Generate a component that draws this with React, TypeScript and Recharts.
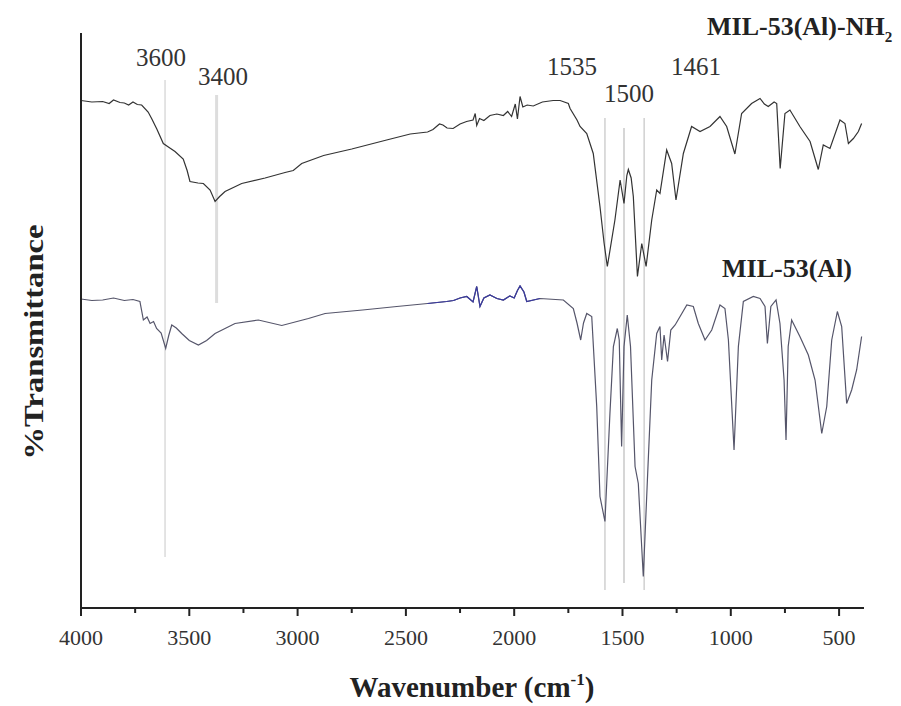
import React from 'react';
import { LineChart, Line, XAxis, YAxis, ReferenceLine, Customized } from 'recharts';

// MIL-53(Al)-NH2 spectrum (wavenumber, relative transmittance, offset trace)
const NH2_WN = [4000, 3950, 3900, 3870, 3850, 3820, 3800, 3780, 3760, 3740, 3720, 3690, 3674, 3650, 3620, 3600, 3566, 3528, 3510, 3497, 3460, 3435, 3404, 3381, 3360, 3335, 3258, 3150, 3058, 3020, 2981, 2880, 2750, 2589, 2480, 2400, 2375, 2345, 2329, 2310, 2282, 2250, 2220, 2190, 2180, 2173, 2160, 2140, 2112, 2080, 2050, 2030, 2012, 1995, 1985, 1973, 1960, 1940, 1912, 1870, 1820, 1788, 1750, 1742, 1710, 1696, 1665, 1635, 1604, 1585, 1570, 1535, 1511, 1493, 1480, 1473, 1460, 1450, 1431, 1411, 1391, 1365, 1342, 1327, 1296, 1273, 1253, 1219, 1181, 1142, 1096, 1050, 1019, 981, 950, 904, 865, 845, 827, 800, 788, 772, 750, 727, 681, 634, 596, 573, 542, 496, 473, 457, 434, 411, 396];
const NH2_T = [101.5, 101.2, 101.3, 100.9, 101.6, 101.1, 101.0, 100.6, 101.2, 100.7, 100.6, 99.2, 97.9, 95.8, 92.9, 92.3, 91.3, 89.8, 87.5, 85.3, 85.0, 84.9, 83.6, 81.3, 82.3, 83.3, 84.9, 86.0, 87.1, 87.5, 88.9, 90.5, 91.8, 93.6, 94.8, 95.2, 95.7, 96.8, 96.6, 96.0, 95.9, 96.8, 97.3, 97.6, 98.9, 96.5, 97.9, 97.5, 98.5, 98.8, 98.5, 99.3, 98.3, 100.8, 97.8, 102.3, 100.2, 100.6, 100.4, 101.2, 101.5, 101.5, 100.9, 99.9, 97.6, 96.3, 94.9, 90.9, 80.3, 73.0, 68.3, 77.6, 85.6, 80.9, 86.5, 87.7, 86.0, 82.3, 66.3, 72.9, 68.3, 77.6, 83.6, 82.9, 91.6, 88.9, 81.6, 90.9, 96.3, 95.3, 96.3, 98.3, 96.3, 90.8, 98.9, 100.9, 101.9, 100.8, 100.3, 101.2, 100.9, 87.9, 98.9, 99.6, 96.3, 93.3, 87.7, 92.6, 91.9, 97.6, 96.9, 92.9, 93.9, 95.3, 96.9];

// MIL-53(Al) spectrum
const AL_WN = [4000, 3950, 3900, 3850, 3800, 3760, 3728, 3712, 3695, 3681, 3665, 3651, 3630, 3609, 3595, 3581, 3560, 3535, 3500, 3458, 3420, 3381, 3289, 3181, 3073, 2950, 2873, 2700, 2542, 2400, 2312, 2280, 2250, 2219, 2190, 2173, 2158, 2140, 2112, 2080, 2050, 2020, 2000, 1985, 1973, 1955, 1942, 1881, 1773, 1727, 1710, 1693, 1680, 1665, 1642, 1619, 1604, 1581, 1558, 1542, 1524, 1515, 1504, 1493, 1478, 1463, 1442, 1427, 1404, 1385, 1365, 1342, 1327, 1319, 1308, 1292, 1277, 1257, 1203, 1173, 1150, 1119, 1088, 1050, 1027, 1011, 985, 965, 942, 896, 865, 842, 831, 815, 791, 773, 754, 745, 735, 719, 681, 642, 611, 580, 557, 534, 508, 488, 465, 442, 419, 396];
const AL_T = [61.8, 61.5, 61.6, 62.0, 61.5, 61.7, 61.3, 57.6, 58.2, 56.9, 57.3, 55.9, 55.0, 51.9, 54.5, 56.6, 56.0, 54.9, 53.5, 52.6, 53.5, 54.9, 56.9, 57.6, 56.5, 57.9, 58.9, 59.6, 60.3, 60.9, 61.3, 61.5, 62.0, 62.3, 61.2, 64.3, 60.3, 62.0, 62.6, 61.9, 61.6, 62.4, 62.0, 63.5, 64.4, 63.2, 61.3, 61.9, 61.6, 59.9, 57.0, 53.6, 57.0, 58.9, 58.3, 40.3, 22.3, 17.3, 38.9, 52.3, 55.9, 53.6, 32.3, 52.3, 58.6, 52.3, 28.3, 24.9, 6.3, 25.6, 45.6, 54.9, 56.3, 49.6, 54.6, 49.3, 55.6, 56.6, 60.6, 60.3, 56.9, 53.6, 55.6, 60.6, 59.9, 53.6, 31.6, 52.3, 61.3, 62.3, 61.9, 60.3, 52.9, 60.3, 61.6, 56.9, 45.6, 33.6, 52.3, 57.6, 54.3, 50.6, 45.6, 34.9, 40.3, 53.6, 59.3, 56.3, 40.9, 43.6, 47.6, 54.3];

// noisy CO2 region of the MIL-53(Al) trace, drawn in blue
const AL_BLUE_RANGE = [1780, 2420];

// x-axis ticks
const MAJOR_TICKS = [4000, 3500, 3000, 2500, 2000, 1500, 1000, 500];
const MINOR_TICKS = [3750, 3250, 2750, 2250, 1750, 1250, 750];

// vertical marker lines: wavenumber, top value, bottom value
const MARKER_WN = [3612, 3374, 1581, 1493, 1400];
const MARKER_TOP = [105.6, 102.6, 98, 96, 98];
const MARKER_BOTTOM = [10.2, 61, 3.6, 5, 3.6];

// annotation texts
const ANNOT_LABELS = ['3600', '3400', '1535', '1500', '1461'];
const SERIES_NAMES = ['MIL-53(Al)-NH', 'MIL-53(Al)'];

const nh2Data = NH2_WN.map((w, i) => ({ w, t: NH2_T[i] }));
const alData = AL_WN.map((w, i) => ({ w, t: AL_T[i] }));
const alBlueData = alData.filter((d) => d.w >= AL_BLUE_RANGE[0] && d.w <= AL_BLUE_RANGE[1]);
const allTicks = [...MAJOR_TICKS, ...MINOR_TICKS].sort((a, b) => b - a);

const FONT = '"Liberation Serif", "Times New Roman", Times, serif';
const serif = { fontFamily: FONT };

const annotPos = [
  { x: 161, y: 66 },
  { x: 223, y: 85 },
  { x: 572, y: 75 },
  { x: 629, y: 102 },
  { x: 696, y: 75 },
];

const markerStyle = [
  { stroke: '#c8c8c8', strokeWidth: 1 },
  { stroke: '#dddddd', strokeWidth: 3 },
  { stroke: '#d0d0d0', strokeWidth: 1.5 },
  { stroke: '#d6d6d6', strokeWidth: 2 },
  { stroke: '#d0d0d0', strokeWidth: 1.5 },
];

const XTick = (props: any) => {
  const { x, y, payload } = props;
  const major = MAJOR_TICKS.includes(payload.value);
  return (
    <g>
      <line x1={x} x2={x} y1={y} y2={y + (major ? 8 : 5)} stroke="#222" strokeWidth={2} />
      {major && (
        <text x={x} y={y + 37} textAnchor="middle" style={{ ...serif, fontSize: 22 }} fill="#333">
          {payload.value}
        </text>
      )}
    </g>
  );
};

const Annotations = () => (
  <g>
    {ANNOT_LABELS.map((s, i) => (
      <text key={s} x={annotPos[i].x} y={annotPos[i].y} textAnchor="middle" style={{ ...serif, fontSize: 25 }} fill="#333">
        {s}
      </text>
    ))}
    <text x={707} y={35} style={{ ...serif, fontSize: 26, fontWeight: 'bold' }} fill="#222">
      {SERIES_NAMES[0]}
      <tspan style={{ fontSize: 15 }} dy={7}>2</tspan>
    </text>
    <text x={722} y={277} style={{ ...serif, fontSize: 26, fontWeight: 'bold' }} fill="#222">
      {SERIES_NAMES[1]}
    </text>
    <text x={472} y={697} textAnchor="middle" style={{ ...serif, fontSize: 29, fontWeight: 'bold' }} fill="#222">
      Wavenumber (cm
      <tspan style={{ fontSize: 17 }} dy={-12}>-1</tspan>
      <tspan dy={12}>)</tspan>
    </text>
    <text
      x={43}
      y={342}
      transform="rotate(-90, 43, 342)"
      textAnchor="middle"
      style={{ ...serif, fontSize: 28, fontWeight: 'bold' }}
      fill="#222"
      textLength={235}
      lengthAdjust="spacingAndGlyphs"
    >
      %Transmittance
    </text>
  </g>
);

export default function App() {
  return (
    <div style={{ position: 'absolute', left: 0, top: 0, width: 901, height: 706, background: '#fff' }}>
      <LineChart width={901} height={706} margin={{ top: 33, right: 37, left: 0, bottom: 0 }}>
        <XAxis
          type="number"
          dataKey="w"
          domain={[385, 4000]}
          reversed
          allowDataOverflow
          ticks={allTicks}
          interval={0}
          tick={<XTick />}
          tickLine={false}
          tickSize={0}
          tickMargin={0}
          height={98}
          axisLine={{ stroke: '#222', strokeWidth: 2 }}
        />
        <YAxis
          type="number"
          domain={[0, 115]}
          allowDataOverflow
          tick={false}
          tickLine={false}
          width={81}
          axisLine={{ stroke: '#222', strokeWidth: 2 }}
        />
        {MARKER_WN.map((w, i) => (
          <ReferenceLine
            key={w}
            segment={[
              { x: w, y: MARKER_TOP[i] },
              { x: w, y: MARKER_BOTTOM[i] },
            ]}
            stroke={markerStyle[i].stroke}
            strokeWidth={markerStyle[i].strokeWidth}
            ifOverflow="extendDomain"
          />
        ))}
        <Line data={nh2Data} dataKey="t" type="linear" stroke="#333" strokeWidth={1.2} dot={false} isAnimationActive={false} />
        <Line data={alData} dataKey="t" type="linear" stroke="#55556a" strokeWidth={1.2} dot={false} isAnimationActive={false} />
        <Line data={alBlueData} dataKey="t" type="linear" stroke="#3a3aa0" strokeWidth={1.2} dot={false} isAnimationActive={false} />
        <Customized component={<Annotations />} />
      </LineChart>
    </div>
  );
}
